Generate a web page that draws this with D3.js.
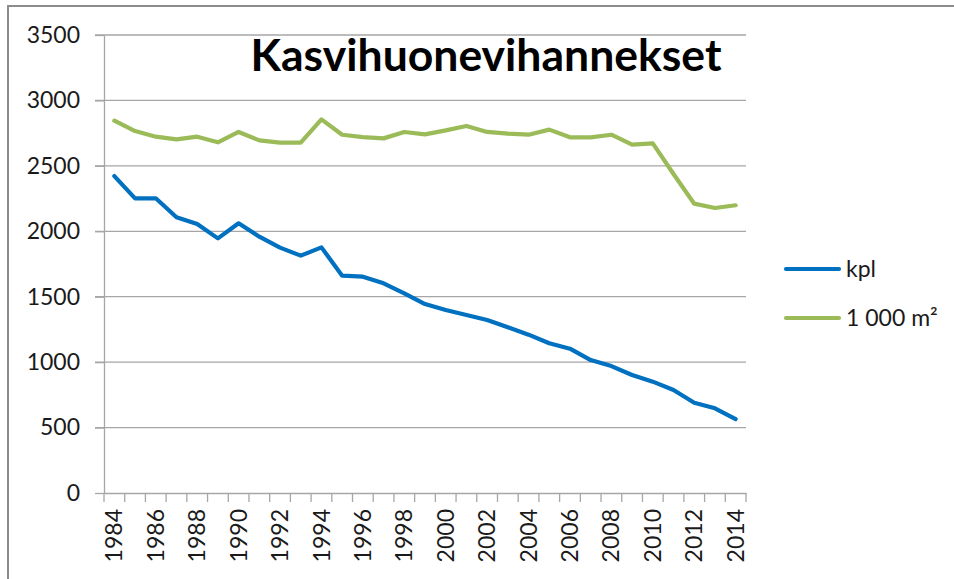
<!DOCTYPE html>
<html><head><meta charset="utf-8">
<script src="https://cdn.jsdelivr.net/npm/d3@7"></script>
<style>html,body{margin:0;padding:0;background:#fff;}svg{display:block;}</style>
</head><body>
<svg id="c" width="954" height="579"></svg>
<script>
const years = d3.range(1984, 2015);
const kpl = [2422,2252,2252,2107,2056,1946,2061,1959,1875,1814,1877,1661,1653,1602,1526,1444,1398,1360,1322,1266,1210,1144,1103,1016,970,902,851,787,690,647,565];
const area = [2845,2766,2723,2703,2723,2680,2759,2695,2677,2677,2855,2738,2720,2710,2759,2741,2771,2805,2759,2746,2738,2777,2718,2718,2738,2662,2672,2438,2211,2178,2199];
const yTicks = [0,500,1000,1500,2000,2500,3000,3500];
const seriesNames = ["kpl","1 000 m²"];
const colors = ["#0070C0","#9BBB59"];
const title = "Kasvihuonevihannekset";

const svg = d3.select("#c");
const font = "Lato, 'Open Sans', sans-serif";
const L = 104, R = 746, T = 35, B = 493;

// outer border
svg.append("path").attr("d", `M8,600 V6 H960`).attr("fill","none").attr("stroke","#8c8c8c").attr("stroke-width",2);

const x = d3.scaleBand().domain(years).range([L, R]);
const y = d3.scaleLinear().domain([0,3500]).range([B, T]);

// gridlines
svg.append("g").selectAll("line").data(yTicks.filter(d=>d>0)).join("line")
  .attr("x1", L - 9).attr("x2", R).attr("y1", d=>y(d)).attr("y2", d=>y(d))
  .attr("stroke","#a6a6a6").attr("stroke-width",1.3);

// y axis
const ya = svg.append("g").attr("transform",`translate(${L},0)`)
  .call(d3.axisLeft(y).tickValues(yTicks).tickFormat(d3.format("d")).tickSize(9).tickPadding(15).tickSizeOuter(0));
ya.select(".domain").attr("stroke","#a6a6a6").attr("stroke-width",1.3);
ya.selectAll(".tick line").attr("stroke","#a6a6a6").attr("stroke-width",1.3);
ya.selectAll("text").attr("font-family",font).attr("font-size",23).attr("fill","#1a1a1a");

// x axis
const xa = svg.append("g").attr("transform",`translate(0,${B})`)
  .call(d3.axisBottom(x).tickValues(years.filter(d=>d%2===0)).tickSize(0).tickSizeOuter(0));
xa.select(".domain").attr("stroke","#a6a6a6").attr("stroke-width",1.3);
xa.selectAll("text").attr("font-family",font).attr("font-size",23).attr("fill","#1a1a1a")
  .attr("transform","rotate(-90)").attr("text-anchor","end").attr("dy","0.35em").attr("x",-16).attr("y",0);
// boundary tick marks
const bounds = years.map(d=>x(d)).concat([R]);
svg.append("g").selectAll("line").data(bounds).join("line")
  .attr("x1",d=>d).attr("x2",d=>d).attr("y1",B).attr("y2",B+9)
  .attr("stroke","#a6a6a6").attr("stroke-width",1.3);

// lines
const line = d3.line().x((d,i)=>x(years[i]) + x.bandwidth()/2).y(d=>y(d));
[kpl, area].forEach((s,k)=>{
  svg.append("path").datum(s).attr("d", line).attr("fill","none")
    .attr("stroke", colors[k]).attr("stroke-width",4.2).attr("stroke-linejoin","round").attr("stroke-linecap","round");
});

// title
svg.append("text").attr("x",486).attr("y",71).attr("text-anchor","middle")
  .attr("font-family",font).attr("font-weight","bold").attr("font-size",44.5).attr("fill","#000").text(title);

// legend
const lg = svg.append("g");
seriesNames.forEach((n,k)=>{
  const yy = 269 + k*49;
  lg.append("line").attr("x1",786).attr("x2",839).attr("y1",yy).attr("y2",yy)
    .attr("stroke",colors[k]).attr("stroke-width",4.2).attr("stroke-linecap","round");
  lg.append("text").attr("x",846).attr("y",yy).attr("dy","0.35em")
    .attr("font-family",font).attr("font-size",23).attr("fill","#1a1a1a").text(n);
});
</script>
</body></html>
